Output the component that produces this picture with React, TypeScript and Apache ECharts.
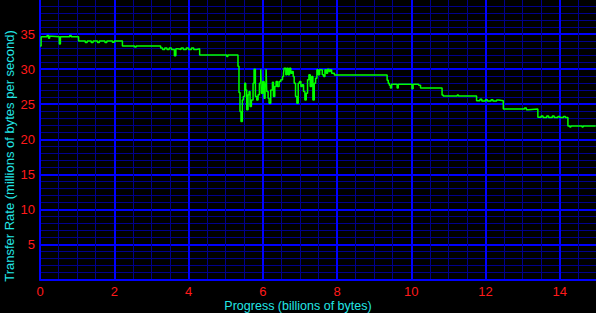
import React, { useEffect, useRef } from "react";
import * as echarts from "echarts";

// Progress (billions of bytes) at which the rate changes
const progress: number[] = [
  0.0, 0.03, 0.19, 0.23, 0.26, 0.31, 0.52, 0.55, 0.8, 0.84,
  1.04, 1.22, 1.27, 1.38, 1.43, 1.55, 1.6, 1.75, 1.8, 1.95, 2.0,
  2.22, 2.55, 2.59, 3.25, 3.3, 3.36, 3.42, 3.48, 3.54, 3.62, 3.66, 3.72, 3.8, 3.86, 3.94, 4.0, 4.08, 4.14, 4.22,
  4.3, 5.03, 5.06,
  5.333, 5.36, 5.387, 5.414, 5.45, 5.477, 5.514, 5.541, 5.568, 5.604, 5.631, 5.658, 5.694, 5.739, 5.766, 5.802,
  5.838, 5.874, 5.91, 5.946, 5.964, 6.0, 6.036, 6.063, 6.09, 6.108, 6.144, 6.171, 6.216, 6.261, 6.288, 6.324,
  6.36, 6.396, 6.441, 6.486, 6.532, 6.559, 6.577, 6.622, 6.649, 6.685, 6.721, 6.757, 6.793, 6.82, 6.847, 6.883,
  6.919, 6.955, 6.991, 7.027, 7.063, 7.099, 7.135, 7.171, 7.207, 7.243, 7.279, 7.315, 7.351, 7.387, 7.423, 7.459,
  7.495, 7.532, 7.604, 7.64, 7.676, 7.712, 7.748, 7.784, 7.82, 7.856,
  7.93, 9.35, 9.38, 9.41, 9.44, 9.47, 9.62, 9.65, 10.02, 10.05, 10.2, 10.25,
  10.83, 10.86, 11.24, 11.27,
  11.76, 11.85, 11.9, 12.0, 12.05, 12.15, 12.2, 12.3, 12.35,
  12.48, 13.05, 13.1, 13.15,
  13.41, 13.5, 13.55, 13.65, 13.7, 13.8, 13.85, 13.95, 14.0, 14.1, 14.15,
  14.22, 14.27, 14.3, 14.6, 14.63, 14.97,
];

// Transfer rate (millions of bytes per second)
const rate: number[] = [
  33.3, 34.6, 34.8, 34.4, 34.7, 34.6, 33.6, 34.6, 34.8, 34.6,
  34.0, 33.8, 34.0, 33.8, 34.0, 33.8, 34.0, 33.8, 34.0, 33.85, 34.0,
  33.3, 33.15, 33.3, 33.0, 32.8, 33.0, 32.8, 33.0, 32.8, 31.9, 32.9, 32.8, 33.0, 32.8, 33.0, 32.8, 33.0, 32.8, 32.9,
  32.0, 31.8, 32.0,
  30.4, 26.66, 23.95, 22.52, 25.61, 26.09, 28.0, 27.04, 24.19, 26.33, 26.8, 24.66, 25.61, 28.0, 30.0, 26.09,
  25.61, 26.33, 28.0, 30.0, 26.57, 28.23, 25.85, 28.0, 30.0, 26.8, 25.85, 25.14, 27.04, 28.14, 26.09, 27.52,
  28.23, 27.52, 28.23, 28.47, 28.95, 29.42, 30.14, 29.19, 30.14, 29.19, 30.14, 29.42, 29.66, 28.95, 28.0, 26.09,
  25.14, 28.0, 28.23, 27.52, 27.76, 26.8, 25.61, 26.57, 28.47, 29.19, 27.52, 28.95, 25.61, 28.0, 28.71, 29.9,
  29.19, 29.9, 29.19, 28.95, 29.9, 29.42, 30.0, 29.66, 29.9, 29.42,
  29.15, 28.4, 28.0, 27.7, 27.3, 27.85, 27.3, 27.85, 27.2, 27.85, 27.7, 27.3,
  26.3, 26.15, 26.3, 26.15,
  25.5, 25.7, 25.45, 25.65, 25.45, 25.65, 25.45, 25.6, 25.5,
  24.3, 24.45, 24.2, 24.3,
  23.15, 23.3, 23.1, 23.3, 23.1, 23.3, 23.1, 23.25, 23.1, 23.25, 23.1,
  21.9, 21.75, 21.9, 21.75, 21.9, 21.9,
];

const xTitle = "Progress (billions of bytes)";
const yTitle = "Transfer Rate (millions of bytes per second)";

const MAJOR = "#0000ff";
const MINOR = "#00008c";
const LABEL = "#ff1a1a";
const TITLE = "#22e6e6";
const LINE = "#00ff00";
const TICK_FONT = "'Liberation Sans Narrow', 'Liberation Sans', sans-serif";

export default function App() {
  const ref = useRef<HTMLDivElement>(null);

  useEffect(() => {
    document.body.style.margin = "0";
    const el = ref.current;
    if (!el) return;
    const chart = echarts.init(el, undefined, { renderer: "svg" });
    const data = progress.map((x, i) => [x, rate[i]]);

    chart.setOption({
      animation: false,
      backgroundColor: "#000000",
      grid: {
        left: 40,
        width: 594,
        top: -1,
        height: 280.5,
        containLabel: false,
        outerBoundsMode: "none",
      },
      xAxis: {
        type: "value",
        min: 0,
        max: 16,
        interval: 2,
        axisLine: { show: true, onZero: false, lineStyle: { color: MAJOR, width: 2 } },
        axisTick: { show: false },
        axisLabel: {
          color: LABEL,
          fontFamily: TICK_FONT,
          fontSize: 13,
          lineHeight: 13,
          margin: 5,
          showMaxLabel: false,
        },
        splitLine: { show: true, lineStyle: { color: MAJOR, width: 2 } },
        minorTick: { show: false, splitNumber: 4 },
        minorSplitLine: { show: true, lineStyle: { color: MINOR, width: 1 } },
      },
      yAxis: {
        type: "value",
        min: 0,
        max: 40,
        interval: 5,
        axisLine: { show: true, onZero: false, lineStyle: { color: MAJOR, width: 2 } },
        axisTick: { show: false },
        axisLabel: {
          color: LABEL,
          fontFamily: TICK_FONT,
          fontSize: 13,
          margin: 5,
          showMinLabel: false,
          showMaxLabel: false,
        },
        splitLine: { show: true, lineStyle: { color: MAJOR, width: 2 } },
        minorTick: { show: false, splitNumber: 5 },
        minorSplitLine: { show: true, lineStyle: { color: MINOR, width: 1 } },
      },
      graphic: [
        {
          type: "text",
          x: 298,
          y: 305.5,
          style: {
            text: xTitle,
            fill: TITLE,
            font: "12.5px 'Liberation Sans', Arial, sans-serif",
            align: "center",
            verticalAlign: "middle",
          },
        },
        {
          type: "text",
          x: 9,
          y: 156,
          rotation: Math.PI / 2,
          style: {
            text: yTitle,
            fill: TITLE,
            font: "13px 'Liberation Sans', Arial, sans-serif",
            align: "center",
            verticalAlign: "middle",
          },
        },
      ],
      series: [
        {
          type: "line",
          data,
          step: "end",
          showSymbol: false,
          symbol: "none",
          lineStyle: { color: LINE, width: 1.5 },
          clip: true,
        },
      ],
    });

    return () => {
      chart.dispose();
    };
  }, []);

  return <div ref={ref} style={{ width: 596, height: 313 }} />;
}
